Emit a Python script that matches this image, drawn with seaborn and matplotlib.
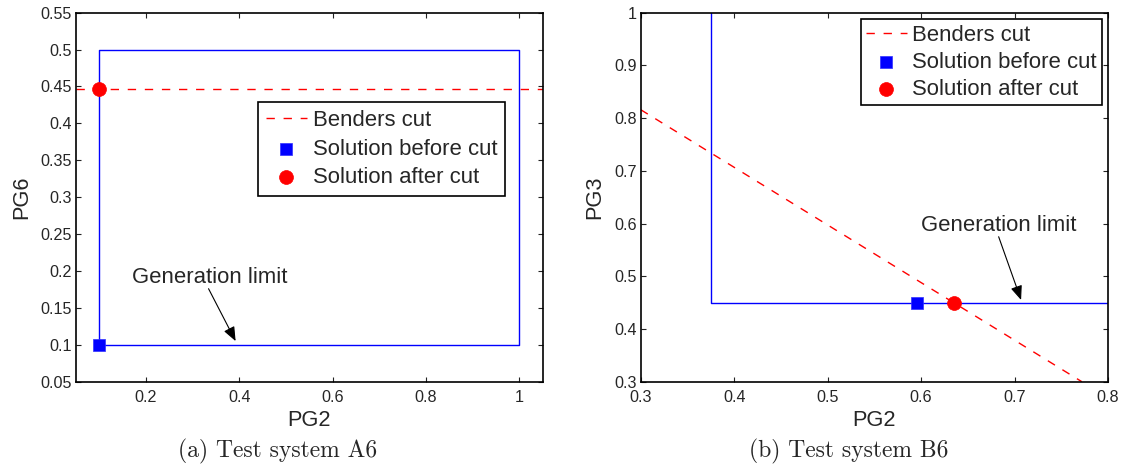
import matplotlib
matplotlib.use("Agg")
import matplotlib.pyplot as plt
import seaborn as sns

# Test system A6: generation limits (PG2, PG6), Benders cut and solutions
a_limit_x = [0.1, 1.0, 1.0, 0.1, 0.1]
a_limit_y = [0.1, 0.1, 0.5, 0.5, 0.1]
a_cut_x = [0.05, 1.05]
a_cut_y = [0.447, 0.447]
a_before_x, a_before_y = [0.1], [0.1]
a_after_x, a_after_y = [0.1], [0.447]
a_xticks = [0.2, 0.4, 0.6, 0.8, 1.0]
a_xticklabels = ["0.2", "0.4", "0.6", "0.8", "1"]
a_yticks = [0.05, 0.1, 0.15, 0.2, 0.25, 0.3, 0.35, 0.4, 0.45, 0.5, 0.55]
a_yticklabels = ["0.05", "0.1", "0.15", "0.2", "0.25", "0.3", "0.35",
                 "0.4", "0.45", "0.5", "0.55"]

# Test system B6: generation limits (PG2, PG3), Benders cut and solutions
b_limit_x = [0.375, 0.375, 0.85]
b_limit_y = [1.05, 0.45, 0.45]
b_cut_x = [0.3, 0.772]
b_cut_y = [0.816, 0.3]
b_before_x, b_before_y = [0.596], [0.45]
b_after_x, b_after_y = [0.635], [0.45]
b_xticks = [0.3, 0.4, 0.5, 0.6, 0.7, 0.8]
b_xticklabels = ["0.3", "0.4", "0.5", "0.6", "0.7", "0.8"]
b_yticks = [0.3, 0.4, 0.5, 0.6, 0.7, 0.8, 0.9, 1.0]
b_yticklabels = ["0.3", "0.4", "0.5", "0.6", "0.7", "0.8", "0.9", "1"]

legend_labels = ["Benders cut", "Solution before cut", "Solution after cut"]

sns.set_style("ticks")
plt.rcParams["font.family"] = ["Liberation Sans", "DejaVu Sans"]

BLUE = "#0000ff"
RED = "#ff0000"
TEXT_SIZE = 15.9

fig = plt.figure(figsize=(11.27, 4.66), dpi=100)
ax_a = fig.add_axes([0.06744, 0.1809, 0.4141, 0.79185])
ax_b = fig.add_axes([0.5685, 0.1809, 0.41464, 0.79185])


def draw_panel(ax, limit_x, limit_y, cut_x, cut_y, bx, by, sx, sy):
    sns.lineplot(x=limit_x, y=limit_y, sort=False, estimator=None,
                 color=BLUE, lw=1.0, ax=ax)
    sns.lineplot(x=cut_x, y=cut_y, sort=False, estimator=None,
                 color=RED, lw=1.0, linestyle=(0, (6, 6.3)), ax=ax)
    cut_line = ax.lines[-1]
    sns.scatterplot(x=bx, y=by, marker="s", s=64, color=BLUE,
                    edgecolor="#3030ff", linewidth=0.5, zorder=5, ax=ax)
    before = ax.collections[-1]
    sns.scatterplot(x=sx, y=sy, marker="o", s=100, color=RED,
                    edgecolor=RED, linewidth=0.5, zorder=6, ax=ax)
    after = ax.collections[-1]
    return [cut_line, before, after]


def style_axes(ax, xlim, ylim, xt, xtl, yt, ytl, xlabel, ylabel, ypad):
    ax.set_xlim(*xlim)
    ax.set_ylim(*ylim)
    ax.set_xticks(xt)
    ax.set_xticklabels(xtl)
    ax.set_yticks(yt)
    ax.set_yticklabels(ytl)
    ax.tick_params(direction="in", top=True, right=True, length=3.6,
                   width=0.8, color="#222222", labelsize=11.6)
    ax.tick_params(axis="x", pad=6.3)
    ax.tick_params(axis="y", pad=3.0)
    for sp in ax.spines.values():
        sp.set_visible(True)
        sp.set_linewidth(1.2)
        sp.set_color("black")
    ax.set_xlabel(xlabel, fontsize=15.7, labelpad=3)
    ax.set_ylabel(ylabel, fontsize=15.7, labelpad=ypad)


def add_legend(ax, handles, anchor, loc, spacing, pad, textpad):
    leg = ax.legend(handles, legend_labels, loc=loc, bbox_to_anchor=anchor,
                    borderaxespad=0, frameon=True, fancybox=False,
                    edgecolor="black", framealpha=1, fontsize=TEXT_SIZE,
                    handlelength=1.84, handletextpad=textpad,
                    labelspacing=spacing, borderpad=pad, scatterpoints=1)
    leg.get_frame().set_linewidth(1.2)


arrow_kw = dict(arrowstyle="-|>,head_length=0.54,head_width=0.22",
                color="black", lw=0.8, mutation_scale=16,
                shrinkA=0, shrinkB=0)

# Panel (a)
h_a = draw_panel(ax_a, a_limit_x, a_limit_y, a_cut_x, a_cut_y,
                 a_before_x, a_before_y, a_after_x, a_after_y)
style_axes(ax_a, (0.05, 1.05), (0.05, 0.55), a_xticks, a_xticklabels,
           a_yticks, a_yticklabels, "PG2", "PG6", 6)
add_legend(ax_a, h_a, (0.3906, 0.757), "upper left", 0.34, 0.35, 0.27)
ax_a.text(0.169, 0.1834, "Generation limit", fontsize=TEXT_SIZE,
          ha="left", va="baseline")
ax_a.annotate("", xy=(0.392, 0.105), xytext=(0.334, 0.176),
              arrowprops=arrow_kw)

# Panel (b)
h_b = draw_panel(ax_b, b_limit_x, b_limit_y, b_cut_x, b_cut_y,
                 b_before_x, b_before_y, b_after_x, b_after_y)
style_axes(ax_b, (0.3, 0.8), (0.3, 1.0), b_xticks, b_xticklabels,
           b_yticks, b_yticklabels, "PG2", "PG3", 6)
add_legend(ax_b, h_b, (0.9865, 0.982), "upper right", 0.27, 0.24, 0.23)
ax_b.text(0.6, 0.585, "Generation limit", fontsize=TEXT_SIZE,
          ha="left", va="baseline")
ax_b.annotate("", xy=(0.707, 0.455), xytext=(0.683, 0.575),
              arrowprops=arrow_kw)

# Sub-captions
fig.text(277.7 / 1127, 0.0193, "(a) Test system A6", family="cmr10",
         fontsize=17, ha="center", va="baseline")
fig.text(848.5 / 1127, 0.0193, "(b) Test system B6", family="cmr10",
         fontsize=17, ha="center", va="baseline")

fig.savefig("out.png", dpi=100)
